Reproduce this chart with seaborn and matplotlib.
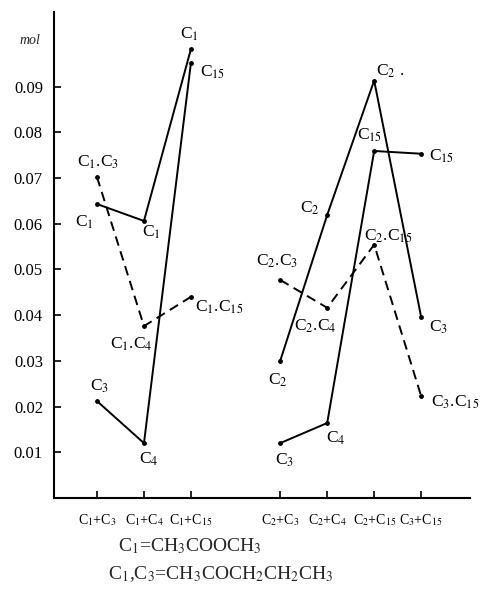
import matplotlib
matplotlib.use("Agg")
import matplotlib.pyplot as plt
import seaborn as sns
import pandas as pd

# Reaction pairs along the x axis and their positions (small gap between groups)
pair_labels = [r"C$_1$+C$_3$", r"C$_1$+C$_4$", r"C$_1$+C$_{15}$",
               r"C$_2$+C$_3$", r"C$_2$+C$_4$", r"C$_2$+C$_{15}$", r"C$_3$+C$_{15}$"]
pair_pos = [0.0, 1.0, 2.0, 3.9, 4.9, 5.9, 6.9]

# Amounts formed (mol) for each series, indexed by reaction pair
c1_idx = [0, 1, 2]
c1_vals = [0.0643, 0.0606, 0.0982]
c1_names = [r"C$_1$", r"C$_1$", r"C$_1$"]

c1x_idx = [0, 1, 2]
c1x_vals = [0.0702, 0.0376, 0.0440]
c1x_names = [r"C$_1$.C$_3$", r"C$_1$.C$_4$", r"C$_1$.C$_{15}$"]

p1_idx = [0, 1, 2]
p1_vals = [0.0212, 0.0120, 0.0952]
p1_names = [r"C$_3$", r"C$_4$", r"C$_{15}$"]

c2_idx = [3, 4, 5, 6]
c2_vals = [0.0300, 0.0619, 0.0913, 0.0396]
c2_names = [r"C$_2$", r"C$_2$", r"C$_2$ .", r"C$_3$"]

p2_idx = [3, 4, 5, 6]
p2_vals = [0.0120, 0.0164, 0.0759, 0.0753]
p2_names = [r"C$_3$", r"C$_4$", r"C$_{15}$", r"C$_{15}$"]

c2x_idx = [3, 4, 5, 6]
c2x_vals = [0.0477, 0.0416, 0.0554, 0.0223]
c2x_names = [r"C$_2$.C$_3$", r"C$_2$.C$_4$", r"C$_2$.C$_{15}$", r"C$_3$.C$_{15}$"]

y_ticks = [0.01, 0.02, 0.03, 0.04, 0.05, 0.06, 0.07, 0.08, 0.09]

sns.set_theme(style="ticks")
plt.rcParams["font.family"] = ["Liberation Serif", "DejaVu Serif"]
plt.rcParams["mathtext.fontset"] = "stix"

fig = plt.figure(figsize=(4.81, 5.94), dpi=100)
ax = fig.add_axes([54 / 481, 1 - 498 / 594, (470 - 54) / 481, (498 - 12) / 594])

series = [
    (c1_idx, c1_vals, c1_names, "-", [(-13, -18), (7, -11), (-2, 15)]),
    (c1x_idx, c1x_vals, c1x_names, "--", [(1, 15), (-13, -18), (28, -10)]),
    (p1_idx, p1_vals, p1_names, "-", [(3, 15), (5, -16), (22, -10)]),
    (c2_idx, c2_vals, c2_names, "-", [(-2, -19), (-17, 7), (16, 9), (17, -10)]),
    (p2_idx, p2_vals, p2_names, "-", [(4, -17), (9, -15), (-5, 16), (20, -3)]),
    (c2x_idx, c2x_vals, c2x_names, "--", [(-3, 19), (-12, -18), (14, 8), (34, -6)]),
]

for idx, vals, names, ls, offs in series:
    xs = [pair_pos[i] for i in idx]
    df = pd.DataFrame({"x": xs, "y": vals})
    sns.lineplot(data=df, x="x", y="y", ax=ax, color="black", linewidth=1.4,
                 linestyle=ls, marker="o", markersize=3.5, markeredgewidth=0,
                 estimator=None, sort=False)
    if ls == "--":
        ax.lines[-1].set_dashes((5, 3))
    for x, y, name, (dx, dy) in zip(xs, vals, names, offs):
        ax.annotate(name, (x, y), xytext=(dx, dy), textcoords="offset pixels",
                    ha="center", va="center", fontsize=12.5, color="black")

ax.set_xlim(-0.915, 7.94)
ax.set_ylim(0, 0.1063)
ax.set_xticks(pair_pos)
ax.set_xticklabels(pair_labels, fontsize=10)
ax.set_yticks(y_ticks)
ax.set_yticklabels([f"{v:.2f}" for v in y_ticks], fontsize=12)
ax.tick_params(direction="in", length=5, width=1.2, pad=8, colors="black")
ax.tick_params(axis="x", pad=10)
ax.set_xlabel("")
ax.set_ylabel("")
for side in ("top", "right"):
    ax.spines[side].set_visible(False)
for side in ("left", "bottom"):
    ax.spines[side].set_linewidth(1.5)
    ax.spines[side].set_color("black")

fig.text(30 / 481, 1 - 40 / 594, "mol", fontsize=10, style="italic",
         ha="center", va="center")
fig.text(118 / 481, 1 - 546 / 594, r"C$_1$=CH$_3$COOCH$_3$",
         fontsize=14, ha="left", va="center")
fig.text(108 / 481, 1 - 574 / 594, r"C$_1$,C$_3$=CH$_3$COCH$_2$CH$_2$CH$_3$",
         fontsize=14, ha="left", va="center")

fig.savefig("out.png", dpi=100, facecolor="white")
